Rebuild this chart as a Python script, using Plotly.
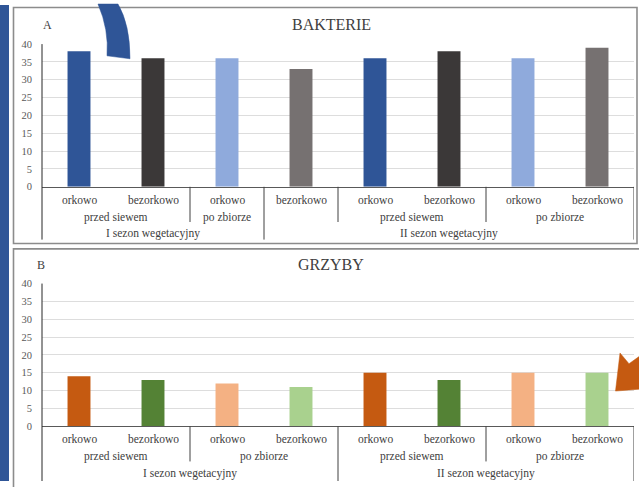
import plotly.graph_objects as go

W, H = 639, 487

# ---------------- data ----------------
level1_labels = ["orkowo", "bezorkowo", "orkowo", "bezorkowo",
                 "orkowo", "bezorkowo", "orkowo", "bezorkowo"]

bakterie_values = [38, 36, 36, 33, 36, 38, 36, 39]
bakterie_colors = ["#2F5597", "#3B3838", "#8FAADC", "#767171",
                   "#2F5597", "#3B3838", "#8FAADC", "#767171"]
# (label, first category index, last category index)
bakterie_mid = [["przed siewem", 0, 1], ["po zbiorze", 2, 2], ["", 3, 3],
                ["przed siewem", 4, 5], ["po zbiorze", 6, 7]]
bakterie_top = [["I sezon wegetacyjny", 0, 2], ["II sezon wegetacyjny", 3, 7]]

grzyby_values = [14, 13, 12, 11, 15, 13, 15, 15]
grzyby_colors = ["#C55A11", "#548235", "#F4B183", "#A9D18E",
                 "#C55A11", "#548235", "#F4B183", "#A9D18E"]
grzyby_mid = [["przed siewem", 0, 1], ["po zbiorze", 2, 3],
              ["przed siewem", 4, 5], ["po zbiorze", 6, 7]]
grzyby_top = [["I sezon wegetacyjny", 0, 3], ["II sezon wegetacyjny", 4, 7]]

y_ticks = [0, 5, 10, 15, 20, 25, 30, 35, 40]

# ---------------- helpers ----------------
def fx(px):
    return px / W

def fy(py):
    return 1 - py / H

SERIF = "Liberation Serif"
TXT = "#404040"
LBL = 11.5

fig = go.Figure()
x_idx = list(range(len(level1_labels)))

fig.add_trace(go.Bar(x=x_idx, y=bakterie_values, marker_color=bakterie_colors,
                     width=0.31, xaxis="x", yaxis="y", showlegend=False,
                     marker_line_width=0))
fig.add_trace(go.Bar(x=x_idx, y=grzyby_values, marker_color=grzyby_colors,
                     width=0.31, xaxis="x2", yaxis="y2", showlegend=False,
                     marker_line_width=0))

xdom = [fx(42), fx(634)]
common_x = dict(range=[-0.5, 7.5], showticklabels=False, showgrid=False,
                zeroline=False, showline=True, linecolor="#595959",
                linewidth=1, ticks="", fixedrange=True)
common_y = dict(range=[0, 40], tickvals=y_ticks, showgrid=True,
                gridcolor="#DDDDDD", gridwidth=1, zeroline=False,
                showline=False, ticks="", ticklabelstandoff=9,
                tickfont=dict(family=SERIF, size=10.5, color="#595959"))

fig.update_layout(
    width=W, height=H, margin=dict(l=0, r=0, t=0, b=0),
    paper_bgcolor="white", plot_bgcolor="white", bargap=0.6,
    font=dict(family=SERIF, color=TXT),
    xaxis=dict(domain=xdom, anchor="y", **common_x),
    yaxis=dict(domain=[fy(186), fy(40)], anchor="x", **common_y),
    xaxis2=dict(domain=xdom, anchor="y2", **common_x),
    yaxis2=dict(domain=[fy(431), fy(285)], anchor="x2", **common_y),
)

shapes = []
annotations = []

# left blue band and frames
shapes.append(dict(type="rect", xref="paper", yref="paper", x0=0, x1=fx(9),
                   y0=0, y1=1, fillcolor="#2F5597", line_width=0, layer="below"))
shapes.append(dict(type="rect", xref="paper", yref="paper", x0=fx(13.5), x1=fx(637),
                   y0=fy(244), y1=fy(2.5), line=dict(color="#8C8C8C", width=1.6),
                   fillcolor="rgba(0,0,0,0)", layer="below"))
shapes.append(dict(type="rect", xref="paper", yref="paper", x0=fx(13.5), x1=fx(645),
                   y0=fy(495), y1=fy(249.5), line=dict(color="#8C8C8C", width=1.6),
                   fillcolor="rgba(0,0,0,0)", layer="below"))


def add_panel(xref, y_axis_top, y_base, rows, mid, top, letter, letter_px, title, title_py):
    row1, row2, row3, short_end, full_end = rows
    # vertical axis line
    shapes.append(dict(type="line", xref="paper", yref="paper", x0=fx(42), x1=fx(42),
                       y0=fy(y_axis_top), y1=fy(full_end),
                       line=dict(color="#262626", width=1)))
    # category labels level 1
    for i, lab in enumerate(level1_labels):
        annotations.append(dict(x=i, y=fy(row1), xref=xref, yref="paper", text=lab,
                                showarrow=False, yanchor="middle",
                                font=dict(family=SERIF, size=LBL, color=TXT)))
    # level 2 labels and short separators
    for lab, a, b in mid:
        if lab:
            annotations.append(dict(x=(a + b) / 2, y=fy(row2), xref=xref, yref="paper",
                                    text=lab, showarrow=False, yanchor="middle",
                                    font=dict(family=SERIF, size=LBL, color=TXT)))
    top_bounds = set(b + 0.5 for _, _, b in top)
    for lab, a, b in mid[:-1]:
        xb = b + 0.5
        if xb in top_bounds:
            continue
        shapes.append(dict(type="line", xref=xref, yref="paper", x0=xb, x1=xb,
                           y0=fy(y_base), y1=fy(short_end),
                           line=dict(color="#404040", width=1)))
    # level 3 labels and full separators
    for lab, a, b in top:
        annotations.append(dict(x=(a + b) / 2, y=fy(row3), xref=xref, yref="paper",
                                text=lab, showarrow=False, yanchor="middle",
                                font=dict(family=SERIF, size=LBL, color=TXT)))
        xb = b + 0.5
        shapes.append(dict(type="line", xref=xref, yref="paper", x0=xb, x1=xb,
                           y0=fy(y_base), y1=fy(full_end),
                           line=dict(color="#404040", width=1)))
    # letter and title
    annotations.append(dict(x=fx(letter_px), y=fy(title_py), xref="paper", yref="paper",
                            text=letter, showarrow=False, xanchor="center", yanchor="middle",
                            font=dict(family=SERIF, size=12, color=TXT)))
    annotations.append(dict(x=fx(331), y=fy(title_py), xref="paper", yref="paper",
                            text=title, showarrow=False, xanchor="center", yanchor="middle",
                            font=dict(family=SERIF, size=16, color=TXT)))


add_panel("x", 40, 186, (199, 217, 234, 222, 240), bakterie_mid, bakterie_top,
          "A", 47, "BAKTERIE", 20)
add_panel("x2", 285, 431, (444, 462, 479, 467, 487), grzyby_mid, grzyby_top,
          "B", 41, "GRZYBY", 266)

# decorative arrows (slide ornaments)
blue_arrow = ("M {} {} Q {} {} {} {} L {} {} Q {} {} {} {} Z").format(
    fx(98), fy(-1), fx(109), fy(25), fx(107), fy(52),
    fx(130), fy(55), fx(130), fy(20), fx(118), fy(-1))
shapes.append(dict(type="path", xref="paper", yref="paper", path=blue_arrow,
                   fillcolor="#2F5597", line=dict(color="#2F5597", width=0.5)))
orange_arrow = "M {} {} L {} {} L {} {} L {} {} L {} {} Z".format(
    fx(620), fy(356), fx(629), fy(367), fx(640), fy(359),
    fx(640), fy(393), fx(615.5), fy(395))
shapes.append(dict(type="path", xref="paper", yref="paper", path=orange_arrow,
                   fillcolor="#C55A11", line=dict(color="#C55A11", width=0.5)))

fig.update_layout(shapes=shapes, annotations=annotations)
fig.write_html("out.html")
